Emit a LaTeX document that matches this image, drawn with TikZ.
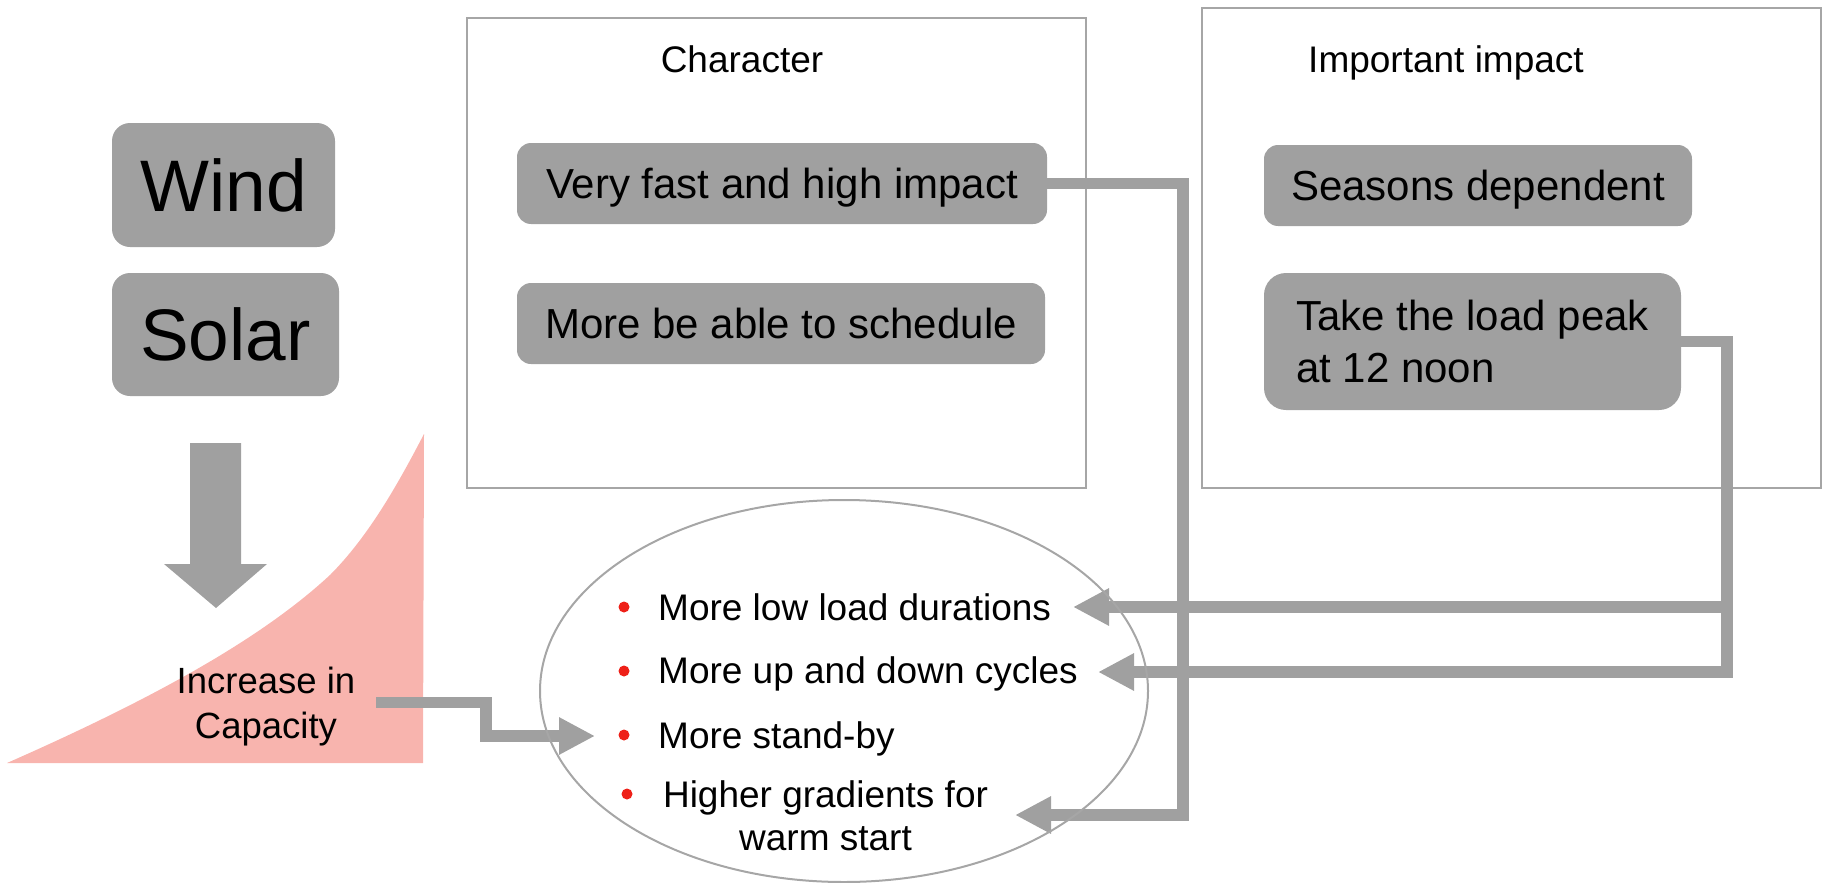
\documentclass[tikz,border=0pt]{standalone}
\usepackage{fontspec}
\setmainfont{Liberation Sans}
\usetikzlibrary{arrows.meta,shapes.geometric}
\definecolor{boxgray}{RGB}{160,160,160}
\definecolor{linegray}{RGB}{166,166,166}
\definecolor{growth}{RGB}{248,180,174}
\definecolor{bulletred}{RGB}{238,32,24}

\begin{document}
\begin{tikzpicture}[x=1pt,y=-1pt,
  graybox/.style={fill=boxgray, draw=none, rounded corners=14pt, inner sep=0pt, text depth=0pt},
  panel/.style={draw=linegray, line width=2pt, inner sep=0pt},
  conn/.style={draw=boxgray, line width=11.5pt, line join=miter},
  headed/.style={-{Triangle[length=36pt,width=35pt]}},
  title/.style={anchor=base, inner sep=0pt, font=\fontsize{37}{44}\selectfont},
  item/.style={anchor=base west, inner sep=0pt, font=\fontsize{37}{43}\selectfont},
  dot/.style={fill=bulletred}
]
\useasboundingbox (0,0) rectangle (1825,883);

% growing capacity curve
\fill[growth] (7,763) .. controls (150,700) and (260,640) .. (330,575)
  .. controls (370,535) and (400,480) .. (424,434) -- (423,763) -- cycle;

% block arrow below the sources
\fill[boxgray] (190,443) -- (241,443) -- (241,564) -- (267,564) -- (216,608)
  -- (164,564) -- (190,564) -- cycle;

% sources
\node[graybox, rounded corners=18pt, minimum width=223pt, minimum height=124pt,
  text height=52.3pt, font=\fontsize{73}{80}\selectfont] (wind) at (223.5,185) {Wind};
\node[graybox, rounded corners=18pt, minimum width=227pt, minimum height=123pt,
  text height=52.3pt, font=\fontsize{73}{80}\selectfont] (solar) at (225.5,334.5) {Solar};

% label on the curve
\node[inner xsep=21pt, inner ysep=0pt, text height=71pt, text depth=0pt,
  font=\fontsize{36.5}{45}\selectfont] (inc) at (266,702.5)
  {\begin{tabular}[b]{@{}c@{}}Increase in\\Capacity\end{tabular}};

% panels
\node[panel, anchor=north west, minimum width=619pt, minimum height=470pt] (charpanel) at (466,17) {};
\node[panel, anchor=north west, minimum width=619pt, minimum height=480pt] (imppanel) at (1201,7) {};
\node[title] (chartitle) at (742,72) {Character};
\node[title] (imptitle) at (1446,72) {Important impact};

% character boxes
\node[graybox, minimum width=530pt, minimum height=81pt, text height=30.1pt,
  font=\fontsize{42}{50}\selectfont] (fast) at (782,183.5) {Very fast and high impact};
\node[graybox, minimum width=528pt, minimum height=81pt, text height=30.1pt,
  font=\fontsize{42}{50}\selectfont] (sched) at (781,323.5) {More be able to schedule};

% impact boxes
\node[graybox, minimum width=428pt, minimum height=81pt, text height=30.1pt,
  font=\fontsize{42}{50}\selectfont] (seasons) at (1478,185.5) {Seasons dependent};
\node[graybox, rounded corners=22pt, minimum width=417pt, minimum height=137pt,
  text height=82.1pt, font=\fontsize{42}{52}\selectfont] (peak) at (1472.5,341.5)
  {\begin{tabular}[b]{@{}l@{}}Take the load peak\\at 12 noon\end{tabular}};

% consequences
\node[item] (low) at (658,620) {More low load durations};
\node[item] (cycles) at (658,683) {More up and down cycles};
\node[item] (standby) at (658,748) {More stand-by};
\node[item, anchor=base] (grad) at (825.5,807) {Higher gradients for};
\node[item, anchor=base] (warm) at (825.5,850) {warm start};
\fill[dot] (624,607) circle (5.5pt);
\fill[dot] (624,671) circle (5.5pt);
\fill[dot] (624,735) circle (5.5pt);
\fill[dot] (627,794) circle (5.5pt);

% connector bends and ends
\coordinate (k1) at (1183,815);
\coordinate (t4) at (1015,815);
\coordinate (k2) at (1727,672);
\coordinate (t2) at (1098,672);
\coordinate (b1) at (1732.75,607);
\coordinate (t1) at (1073,607);
\coordinate (k3) at (486,736);
\coordinate (t3) at (595,736);

\draw[conn, headed] (fast.east) -| (k1) -- (t4);
\draw[conn, headed] (peak.east) -| (k2) -- (t2);
\draw[conn, headed] (b1) -- (t1);
\draw[conn, headed] (inc.east) -| (k3) -- (t3);

% outline around the consequences
\node[draw=linegray, line width=2pt, ellipse, inner sep=0pt,
  minimum width=608pt, minimum height=382pt] (effects) at (844,691) {};
\end{tikzpicture}
\end{document}
